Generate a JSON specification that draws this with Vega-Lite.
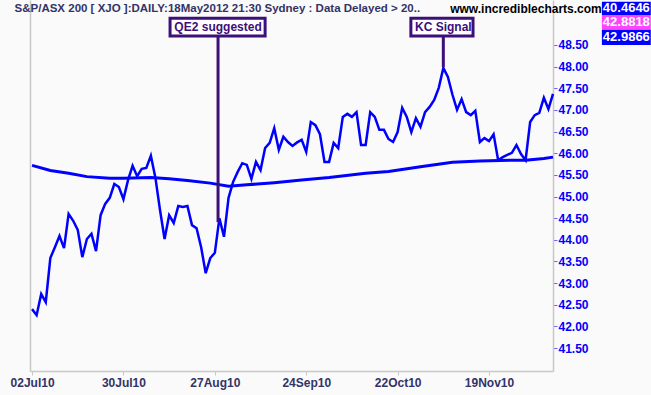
{
  "$schema": "https://vega.github.io/schema/vega-lite/v6.json",
  "width": 523,
  "height": 371,
  "autosize": {"type": "none"},
  "padding": {"left": 30, "top": 0, "right": 98, "bottom": 24},
  "background": "#FAFAFA",
  "config": {
    "view": {"stroke": null},
    "axis": {"grid": false, "domainColor": "#C8C8C8", "domainWidth": 1.5, "title": null},
    "axisX": {"labelFont": "Liberation Sans", "labelFontWeight": "bold", "labelFontSize": 12, "labelColor": "#333366", "tickColor": "#C8C8C8", "tickSize": 4, "labelPadding": 2}
  },
  "datasets": {
    "price": [
      {"day":0,"close":42.40},{"day":1,"close":42.26},{"day":2,"close":42.75},{"day":3,"close":42.56},{"day":4,"close":43.58},
      {"day":5,"close":43.83},{"day":6,"close":44.09},{"day":7,"close":43.81},{"day":8,"close":44.60},{"day":9,"close":44.44},
      {"day":10,"close":44.23},{"day":11,"close":43.60},{"day":12,"close":44.02},{"day":13,"close":44.14},{"day":14,"close":43.74},
      {"day":15,"close":44.57},{"day":16,"close":44.83},{"day":17,"close":44.97},{"day":18,"close":45.29},{"day":19,"close":45.22},
      {"day":20,"close":44.94},{"day":21,"close":45.38},{"day":22,"close":45.71},{"day":23,"close":45.47},{"day":24,"close":45.64},
      {"day":25,"close":45.66},{"day":26,"close":45.94},{"day":27,"close":45.43},{"day":28,"close":44.69},{"day":29,"close":44.02},
      {"day":30,"close":44.57},{"day":31,"close":44.39},{"day":32,"close":44.78},{"day":33,"close":44.76},{"day":34,"close":44.78},
      {"day":35,"close":44.34},{"day":36,"close":44.27},{"day":37,"close":43.83},{"day":38,"close":43.23},{"day":39,"close":43.58},
      {"day":40,"close":43.70},{"day":41,"close":44.50},{"day":42,"close":44.07},{"day":43,"close":44.97},{"day":44,"close":45.34},
      {"day":45,"close":45.57},{"day":46,"close":45.77},{"day":47,"close":45.73},{"day":48,"close":45.41},{"day":49,"close":45.80},
      {"day":50,"close":45.61},{"day":51,"close":46.12},{"day":52,"close":46.24},{"day":53,"close":46.58},{"day":54,"close":46.08},
      {"day":55,"close":46.38},{"day":56,"close":46.26},{"day":57,"close":46.17},{"day":58,"close":46.25},{"day":59,"close":46.31},
      {"day":60,"close":46.03},{"day":61,"close":46.72},{"day":62,"close":46.65},{"day":63,"close":46.44},{"day":64,"close":45.80},
      {"day":65,"close":45.80},{"day":66,"close":46.24},{"day":67,"close":46.12},{"day":68,"close":46.84},{"day":69,"close":46.91},
      {"day":70,"close":46.84},{"day":71,"close":46.95},{"day":72,"close":46.19},{"day":73,"close":46.19},{"day":74,"close":46.95},
      {"day":75,"close":46.84},{"day":76,"close":46.54},{"day":77,"close":46.54},{"day":78,"close":46.33},{"day":79,"close":46.26},
      {"day":80,"close":46.49},{"day":81,"close":47.05},{"day":82,"close":46.84},{"day":83,"close":46.49},{"day":84,"close":46.81},
      {"day":85,"close":46.61},{"day":86,"close":46.95},{"day":87,"close":47.07},{"day":88,"close":47.23},{"day":89,"close":47.51},
      {"day":90,"close":47.97},{"day":91,"close":47.76},{"day":92,"close":47.35},{"day":93,"close":47.00},{"day":94,"close":47.25},
      {"day":95,"close":46.95},{"day":96,"close":46.88},{"day":97,"close":46.98},{"day":98,"close":46.26},{"day":99,"close":46.35},
      {"day":100,"close":46.28},{"day":101,"close":46.44},{"day":102,"close":45.84},{"day":103,"close":45.91},{"day":104,"close":45.96},
      {"day":105,"close":46.01},{"day":106,"close":46.19},{"day":107,"close":45.98},{"day":108,"close":45.84},{"day":109,"close":46.72},
      {"day":110,"close":46.88},{"day":111,"close":46.93},{"day":112,"close":47.28},{"day":113,"close":47.02},{"day":114,"close":47.37}
    ],
    "ma": [
      {"day":0,"ma":45.72},{"day":4,"ma":45.60},{"day":8,"ma":45.54},{"day":12,"ma":45.46},{"day":17,"ma":45.42},
      {"day":20,"ma":45.42},{"day":26,"ma":45.44},{"day":30,"ma":45.41},{"day":34,"ma":45.37},{"day":39,"ma":45.31},
      {"day":43,"ma":45.24},{"day":47,"ma":45.27},{"day":53,"ma":45.32},{"day":59,"ma":45.38},{"day":65,"ma":45.44},
      {"day":73,"ma":45.54},{"day":78,"ma":45.58},{"day":85,"ma":45.69},{"day":92,"ma":45.79},{"day":98,"ma":45.82},
      {"day":105,"ma":45.84},{"day":108,"ma":45.84},{"day":112,"ma":45.88},{"day":114,"ma":45.91}
    ],
    "notes": [
      {"label":"QE2 suggested","day":40.7,"x0":30.2,"x1":51.0,"top":48.71,"boxTop":49.12,"mid":48.915,"bottom":44.41},
      {"label":"KC Signal","day":90.0,"x0":82.9,"x1":96.5,"top":48.71,"boxTop":49.12,"mid":48.915,"bottom":47.99}
    ],
    "values": [
      {"indicator":"a","label":"40.4646","x0":124.7,"x1":135.4,"xc":130.05,"y0":49.50,"y1":49.19,"yc":49.345},
      {"indicator":"b","label":"42.8818","x0":124.7,"x1":135.4,"xc":130.05,"y0":49.19,"y1":48.85,"yc":49.02},
      {"indicator":"c","label":"42.9866","x0":124.7,"x1":135.4,"xc":130.05,"y0":48.85,"y1":48.50,"yc":48.675}
    ]
  },
  "layer": [
    {
      "data": {"name": "price"},
      "mark": {"type": "line", "color": "#0000FF", "strokeWidth": 2.5},
      "encoding": {
        "x": {"field": "day", "type": "quantitative",
              "scale": {"domain": [-0.45, 114], "nice": false, "zero": false},
              "axis": {"values": [0, 20, 40, 60, 80, 100], "orient": "bottom",
                       "labelExpr": "datum.value == 0 ? '02Jul10' : datum.value == 20 ? '30Jul10' : datum.value == 40 ? '27Aug10' : datum.value == 60 ? '24Sep10' : datum.value == 80 ? '22Oct10' : '19Nov10'"}},
        "y": {"field": "close", "type": "quantitative",
              "scale": {"domain": [40.971, 49.539], "nice": false, "zero": false},
              "axis": {"orient": "left", "labels": false, "ticks": false, "domain": true}}
      }
    },
    {
      "data": {"name": "ma"},
      "mark": {"type": "line", "color": "#0000FF", "strokeWidth": 3},
      "encoding": {
        "x": {"field": "day", "type": "quantitative"},
        "y": {"field": "ma", "type": "quantitative",
              "axis": {"orient": "right", "values": [41.5, 42, 42.5, 43, 43.5, 44, 44.5, 45, 45.5, 46, 46.5, 47, 47.5, 48, 48.5],
                       "format": ".2f", "labelColor": "#0000FF", "labelFont": "Liberation Sans", "labelFontWeight": "bold",
                       "labelFontSize": 12, "tickColor": "#6666FF", "tickSize": 4, "labelPadding": 1}}
      }
    },
    {
      "data": {"name": "notes"},
      "mark": {"type": "rule", "color": "#3D0F7A", "strokeWidth": 3},
      "encoding": {
        "x": {"field": "day", "type": "quantitative"},
        "y": {"field": "top", "type": "quantitative", "axis": null},
        "y2": {"field": "bottom"}
      }
    },
    {
      "data": {"name": "notes"},
      "mark": {"type": "rect", "fill": "#FFFFFF", "stroke": "#3D0F7A", "strokeWidth": 3},
      "encoding": {
        "x": {"field": "x0", "type": "quantitative"},
        "x2": {"field": "x1"},
        "y": {"field": "boxTop", "type": "quantitative", "axis": null},
        "y2": {"field": "top"}
      }
    },
    {
      "data": {"name": "notes"},
      "mark": {"type": "text", "color": "#3D0F7A", "font": "Liberation Sans", "fontWeight": "bold", "fontSize": 12, "baseline": "middle", "align": "center"},
      "encoding": {
        "x": {"field": "day", "type": "quantitative"},
        "y": {"field": "mid", "type": "quantitative", "axis": null},
        "text": {"field": "label"}
      }
    },
    {
      "data": {"name": "values"},
      "mark": {"type": "rect"},
      "encoding": {
        "x": {"field": "x0", "type": "quantitative"},
        "x2": {"field": "x1"},
        "y": {"field": "y0", "type": "quantitative", "axis": null},
        "y2": {"field": "y1"},
        "color": {"field": "indicator", "type": "nominal", "legend": null,
                  "scale": {"domain": ["a", "b", "c"], "range": ["#0000FF", "#FF44FF", "#0000FF"]}}
      }
    },
    {
      "data": {"name": "values"},
      "mark": {"type": "text", "color": "#FFFFFF", "font": "Liberation Sans", "fontWeight": "bold", "fontSize": 13, "baseline": "middle", "align": "center"},
      "encoding": {
        "x": {"field": "xc", "type": "quantitative"},
        "y": {"field": "yc", "type": "quantitative", "axis": null},
        "text": {"field": "label"}
      }
    },
    {
      "data": {"values": [{"label": "S&P/ASX 200 [ XJO ]:DAILY:18May2012 21:30 Sydney : Data Delayed > 20..", "day": -3.83, "value": 49.33}]},
      "mark": {"type": "text", "color": "#333366", "font": "Liberation Sans", "fontWeight": "bold", "fontSize": 11.5, "baseline": "middle", "align": "left"},
      "encoding": {
        "x": {"field": "day", "type": "quantitative"},
        "y": {"field": "value", "type": "quantitative", "axis": null},
        "text": {"field": "label"}
      }
    },
    {
      "data": {"values": [{"label": "www.incrediblecharts.com", "day": 91.5, "value": 49.33}]},
      "mark": {"type": "text", "color": "#000000", "font": "Liberation Sans", "fontWeight": "bold", "fontSize": 12, "baseline": "middle", "align": "left"},
      "encoding": {
        "x": {"field": "day", "type": "quantitative"},
        "y": {"field": "value", "type": "quantitative", "axis": null},
        "text": {"field": "label"}
      }
    }
  ],
  "resolve": {"axis": {"y": "independent"}}
}
